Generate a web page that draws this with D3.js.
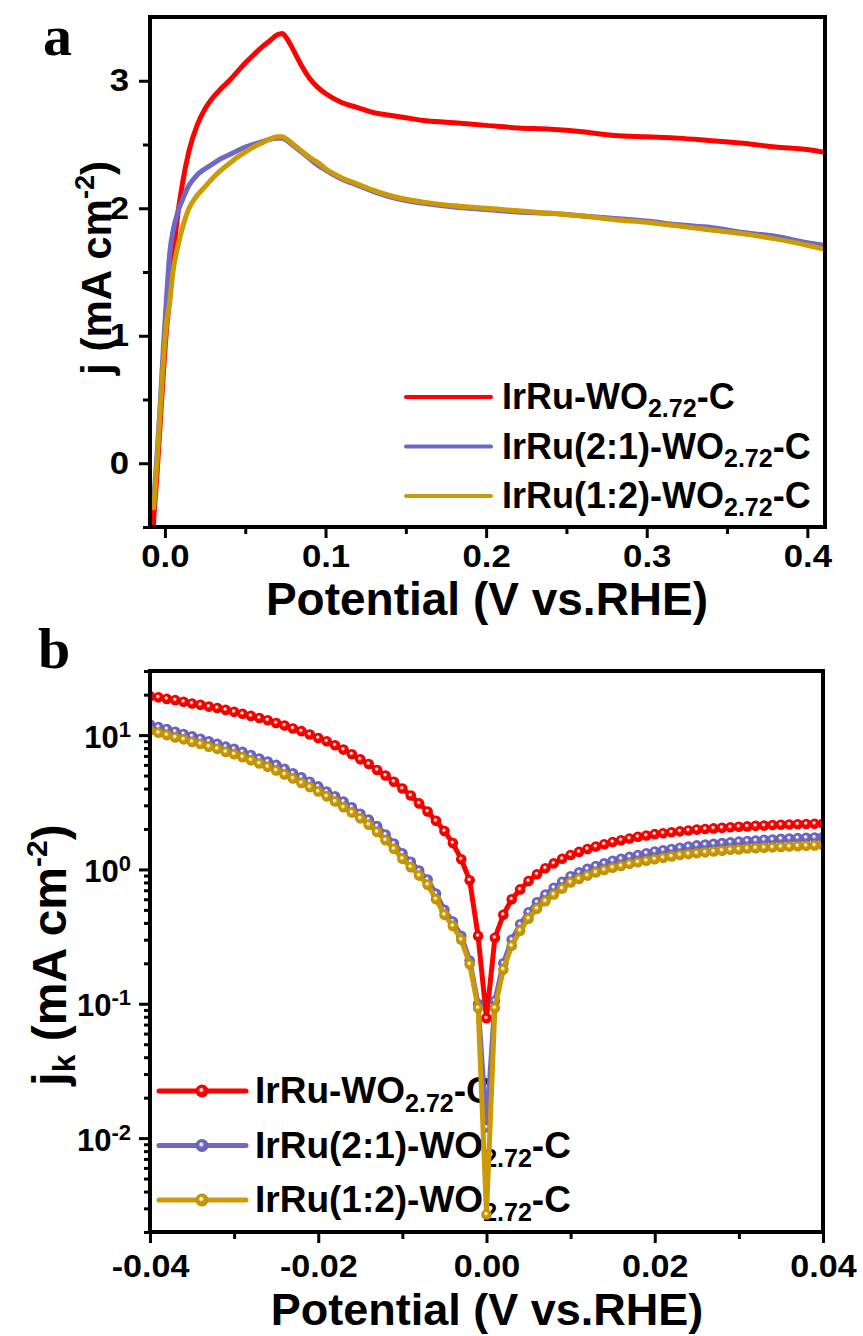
<!DOCTYPE html>
<html><head><meta charset="utf-8">
<script src="https://cdn.jsdelivr.net/npm/d3@7"></script>
<style>
body{margin:0;background:#fff;}
svg{display:block;font-family:"Liberation Sans",Arial,sans-serif;font-weight:bold;}
</style></head><body>
<svg id="c" width="863" height="1336"></svg>
<script>
// ---------- data ----------
const seriesPre = ["IrRu-WO", "IrRu(2:1)-WO", "IrRu(1:2)-WO"];
const seriesSub = "2.72";
const seriesPost = "-C";
const colors = ["#ff0000", "#6e68c6", "#cc9a06"];

// panel a : LSV
const potTop = [-0.009,-0.007,-0.005,-0.003,-0.001,0.001,0.003,0.005,0.008,0.011,0.015,0.02,0.025,0.03,0.035,0.04,0.045,0.05,0.055,0.06,0.065,0.07,0.073,0.076,0.08,0.085,0.09,0.095,0.1,0.11,0.12,0.13,0.14,0.15,0.16,0.18,0.2,0.22,0.24,0.26,0.28,0.3,0.32,0.34,0.36,0.38,0.4,0.41];
const jRed  = [-1.0,-0.45,-0.1,0.3,0.7,1.05,1.3,1.6,1.95,2.2,2.45,2.65,2.78,2.87,2.94,3.0,3.07,3.14,3.2,3.26,3.31,3.36,3.37,3.33,3.24,3.12,3.02,2.95,2.9,2.83,2.79,2.75,2.73,2.71,2.69,2.67,2.65,2.63,2.62,2.6,2.57,2.56,2.55,2.53,2.51,2.48,2.46,2.44];
const jBlue = [null,-0.3,0.05,0.45,0.9,1.3,1.65,1.82,1.97,2.07,2.18,2.26,2.31,2.35,2.39,2.42,2.45,2.48,2.5,2.52,2.54,2.55,2.55,2.53,2.49,2.44,2.39,2.34,2.3,2.23,2.18,2.13,2.09,2.06,2.04,2.01,1.99,1.97,1.96,1.94,1.92,1.9,1.87,1.85,1.81,1.78,1.73,1.71];
const jGold = [null,-0.35,0.0,0.4,0.8,1.1,1.27,1.5,1.7,1.85,2.0,2.1,2.17,2.24,2.3,2.35,2.4,2.44,2.48,2.51,2.54,2.56,2.56,2.54,2.5,2.45,2.4,2.36,2.31,2.24,2.19,2.14,2.1,2.07,2.05,2.02,2.0,1.98,1.96,1.94,1.91,1.89,1.86,1.83,1.8,1.76,1.71,1.68];
const xTicksTop = [0, 0.1, 0.2, 0.3, 0.4];
const xMinorTop = [0.05, 0.15, 0.25, 0.35];
const yTicksTop = [0, 1, 2, 3];
const yMinorTop = [-0.5, 0.5, 1.5, 2.5];

// panel b : kinetic current
const potBot = [-0.040,-0.039,-0.038,-0.037,-0.036,-0.035,-0.034,-0.033,-0.032,-0.031,-0.030,-0.029,-0.028,-0.027,-0.026,-0.025,-0.024,-0.023,-0.022,-0.021,-0.020,-0.019,-0.018,-0.017,-0.016,-0.015,-0.014,-0.013,-0.012,-0.011,-0.010,-0.009,-0.008,-0.007,-0.006,-0.005,-0.004,-0.003,-0.002,-0.001,0.000,0.001,0.002,0.003,0.004,0.005,0.006,0.007,0.008,0.009,0.010,0.011,0.012,0.013,0.014,0.015,0.016,0.017,0.018,0.019,0.020,0.021,0.022,0.023,0.024,0.025,0.026,0.027,0.028,0.029,0.030,0.031,0.032,0.033,0.034,0.035,0.036,0.037,0.038,0.039,0.040];
const jkRed = [19.5,19.1,18.6,18.2,17.7,17.2,16.8,16.3,15.9,15.4,14.9,14.4,13.9,13.4,12.9,12.3,11.8,11.2,10.7,10.1,9.5,9.0,8.4,7.8,7.2,6.6,6.1,5.5,5.0,4.5,4.0,3.55,3.1,2.7,2.3,1.93,1.57,1.19,0.83,0.32,0.078,
  0.31,0.46,0.60,0.71,0.82,0.92,1.02,1.11,1.20,1.28,1.35,1.42,1.48,1.54,1.60,1.65,1.70,1.75,1.79,1.83,1.86,1.89,1.92,1.95,1.98,2.00,2.02,2.04,2.06,2.08,2.09,2.11,2.12,2.14,2.15,2.16,2.17,2.18,2.19,2.20];
const jkBlue = [12.0,11.5,11.1,10.6,10.2,9.8,9.4,9.0,8.6,8.2,7.9,7.5,7.1,6.7,6.35,6.0,5.6,5.2,4.85,4.5,4.15,3.8,3.5,3.2,2.9,2.6,2.35,2.1,1.82,1.56,1.32,1.14,0.98,0.84,0.66,0.5,0.41,0.32,0.21,0.1,0.012,
  0.105,0.2,0.3,0.39,0.48,0.57,0.65,0.73,0.81,0.89,0.95,1.01,1.06,1.11,1.16,1.20,1.24,1.28,1.32,1.36,1.39,1.42,1.45,1.48,1.51,1.53,1.55,1.57,1.59,1.61,1.63,1.64,1.66,1.67,1.69,1.70,1.71,1.72,1.73,1.74];
const jkGold = [10.8,10.4,10.0,9.6,9.3,8.9,8.6,8.2,7.9,7.5,7.2,6.85,6.5,6.15,5.8,5.45,5.1,4.75,4.4,4.1,3.8,3.5,3.2,2.9,2.65,2.4,2.15,1.9,1.65,1.42,1.2,1.04,0.9,0.77,0.6,0.46,0.38,0.30,0.197,0.093,0.0027,
  0.093,0.18,0.27,0.35,0.43,0.51,0.58,0.65,0.72,0.80,0.85,0.90,0.95,0.99,1.03,1.06,1.10,1.13,1.16,1.19,1.22,1.25,1.28,1.30,1.32,1.34,1.36,1.38,1.40,1.41,1.43,1.44,1.45,1.46,1.47,1.48,1.49,1.50,1.51,1.52];
const xTicksBot = [-0.04, -0.02, 0, 0.02, 0.04];
const xMinorBot = [-0.03, -0.01, 0.01, 0.03];
const yTicksBot = [0.01, 0.1, 1, 10];

// ---------- drawing ----------
const svg = d3.select("#c");
const defs = svg.append("defs");
const tickFont = 31;

function styleAxis(g, width, minor) {
  g.select(".domain").remove();
  g.selectAll(".tick line").attr("stroke", "#000").attr("stroke-width", width);
  if (minor) { g.selectAll(".tick text").remove(); return; }
  g.selectAll(".tick text").attr("fill", "#000").attr("font-size", tickFont)
    .attr("font-weight", "bold").attr("font-family", '"Liberation Sans", Arial, sans-serif');
}
function widen(g, f) {
  g.selectAll(".tick text").each(function() {
    const w = this.getComputedTextLength();
    d3.select(this).attr("textLength", w * f).attr("lengthAdjust", "spacingAndGlyphs");
  });
}

// ======= Panel a =======
const xA = d3.scaleLinear().domain([-0.0093, 0.411]).range([150, 825]);
const yA = d3.scaleLinear().domain([-0.5, 3.5]).range([527, 17]);

defs.append("clipPath").attr("id", "clipA").append("rect")
  .attr("x", 150).attr("y", 17).attr("width", 675).attr("height", 510);

const legA = svg.append("g");
seriesPre.forEach((p, i) => {
  const y = 397 + i * 49.5;
  legA.append("line").attr("x1", 406).attr("x2", 491).attr("y1", y).attr("y2", y)
    .attr("stroke", colors[i]).attr("stroke-width", 4).attr("stroke-linecap", "round");
  const t = legA.append("text").attr("x", 502).attr("y", y + 12).attr("font-size", 36);
  t.append("tspan").text(p);
  t.append("tspan").attr("font-size", 25).attr("dy", 8).text(seriesSub);
  t.append("tspan").attr("font-size", 36).attr("dy", -8).text(seriesPost);
});

const lineA = d3.line().defined(d => d[1] !== null)
  .x(d => xA(d[0])).y(d => yA(d[1])).curve(d3.curveMonotoneX);
const dataA = [jRed, jBlue, jGold];
const plotA = svg.append("g").attr("clip-path", "url(#clipA)");
dataA.forEach((arr, i) => {
  plotA.append("path").datum(potTop.map((p, k) => [p, arr[k]]))
    .attr("d", lineA).attr("fill", "none").attr("stroke", colors[i])
    .attr("stroke-width", 5).attr("stroke-linecap", "round").attr("stroke-linejoin", "round");
});

const gxA = svg.append("g").attr("transform", "translate(0,527)")
  .call(d3.axisBottom(xA).tickValues(xTicksTop).tickFormat(d => d.toFixed(1)).tickSize(11).tickPadding(7).tickSizeOuter(0));
styleAxis(gxA, 3); widen(gxA, 1.12);
const gxAm = svg.append("g").attr("transform", "translate(0,527)")
  .call(d3.axisBottom(xA).tickValues(xMinorTop).tickSize(7).tickSizeOuter(0));
styleAxis(gxAm, 3, true);
const gyA = svg.append("g").attr("transform", "translate(150,0)")
  .call(d3.axisLeft(yA).tickValues(yTicksTop).tickFormat(d => String(d)).tickSize(11).tickPadding(10).tickSizeOuter(0));
styleAxis(gyA, 3); widen(gyA, 1.12);
const gyAm = svg.append("g").attr("transform", "translate(150,0)")
  .call(d3.axisLeft(yA).tickValues(yMinorTop).tickSize(7).tickSizeOuter(0));
styleAxis(gyAm, 3, true);

svg.append("rect").attr("x", 150).attr("y", 17).attr("width", 675).attr("height", 510)
  .attr("fill", "none").attr("stroke", "#000").attr("stroke-width", 4);

svg.append("text").attr("x", 487).attr("y", 615).attr("text-anchor", "middle")
  .attr("font-size", 46).text("Potential (V vs.RHE)");
const ytA = svg.append("text").attr("transform", "translate(111,268) rotate(-90)")
  .attr("text-anchor", "middle").attr("font-size", 42);
ytA.append("tspan").text("j (mA cm");
ytA.append("tspan").attr("font-size", 27).attr("dy", -17).text("-2");
ytA.append("tspan").attr("dy", 17).text(")");

svg.append("text").attr("x", 43).attr("y", 55).attr("font-size", 58)
  .attr("font-family", '"Liberation Serif", "Times New Roman", serif').attr("font-weight", "bold").text("a");

// ======= Panel b =======
const xB = d3.scaleLinear().domain([-0.04, 0.04]).range([150, 823]);
const yB = d3.scaleLog().domain([0.002, 30]).range([1232, 671]);

defs.append("clipPath").attr("id", "clipB").append("rect")
  .attr("x", 150).attr("y", 671).attr("width", 673).attr("height", 561);

colors.forEach((c, i) => {
  const g = defs.append("radialGradient").attr("id", "ball" + i)
    .attr("cx", "50%").attr("cy", "50%").attr("r", "50%").attr("fx", "42%").attr("fy", "38%");
  g.append("stop").attr("offset", "0%").attr("stop-color", "#ffffff");
  g.append("stop").attr("offset", "14%").attr("stop-color", "#ffffff");
  g.append("stop").attr("offset", "42%").attr("stop-color", c);
  g.append("stop").attr("offset", "100%").attr("stop-color", d3.color(c).darker(0.25));
});

const legB = svg.append("g");
seriesPre.forEach((p, i) => {
  const y = 1091 + i * 54.5;
  legB.append("line").attr("x1", 159).attr("x2", 246).attr("y1", y).attr("y2", y)
    .attr("stroke", colors[i]).attr("stroke-width", 5).attr("stroke-linecap", "round");
  legB.append("circle").attr("cx", 202).attr("cy", y).attr("r", 6.5).attr("fill", `url(#ball${i})`);
  const t = legB.append("text").attr("x", 255).attr("y", y + 12).attr("font-size", 37);
  t.append("tspan").text(p);
  t.append("tspan").attr("font-size", 25).attr("dy", 9).text(seriesSub);
  t.append("tspan").attr("font-size", 37).attr("dy", -9).text(seriesPost);
});

const lineB = d3.line().x(d => xB(d[0])).y(d => yB(d[1]));
const dataB = [jkRed, jkBlue, jkGold];
const plotB = svg.append("g").attr("clip-path", "url(#clipB)");
dataB.forEach((arr, i) => {
  const pts = potBot.map((p, k) => [p, arr[k]]);
  const g = plotB.append("g");
  g.append("path").datum(pts).attr("d", lineB).attr("fill", "none")
    .attr("stroke", colors[i]).attr("stroke-width", 5).attr("stroke-linejoin", "round");
  g.selectAll("circle").data(pts).join("circle")
    .attr("cx", d => xB(d[0])).attr("cy", d => yB(d[1])).attr("r", 5.3)
    .attr("fill", `url(#ball${i})`);
});

const gxB = svg.append("g").attr("transform", "translate(0,1232)")
  .call(d3.axisBottom(xB).tickValues(xTicksBot).tickFormat(d => d.toFixed(2)).tickSize(11).tickPadding(12).tickSizeOuter(0));
styleAxis(gxB, 3); widen(gxB, 1.1);
const gxBm = svg.append("g").attr("transform", "translate(0,1232)")
  .call(d3.axisBottom(xB).tickValues(xMinorBot).tickSize(7).tickSizeOuter(0));
styleAxis(gxBm, 3, true);

const yMinorBot = [];
[0.001, 0.01, 0.1, 1, 10].forEach(dec => { for (let m = 2; m <= 9; m++) { const v = dec * m; if (v >= 0.002 && v <= 30) yMinorBot.push(v); } });
const gyB = svg.append("g").attr("transform", "translate(150,0)")
  .call(d3.axisLeft(yB).tickValues(yTicksBot).tickFormat(d => "").tickSize(11).tickPadding(8).tickSizeOuter(0));
styleAxis(gyB, 3);
gyB.selectAll(".tick text").each(function(d) {
  const t = d3.select(this).attr("dy", null).attr("y", 12);
  t.append("tspan").text("10");
  t.append("tspan").attr("font-size", 22).attr("dy", -11).text(String(Math.round(Math.log10(d))));
});
const gyBm = svg.append("g").attr("transform", "translate(150,0)")
  .call(d3.axisLeft(yB).tickValues(yMinorBot).tickSize(6).tickSizeOuter(0));
styleAxis(gyBm, 3, true);

svg.append("rect").attr("x", 150).attr("y", 671).attr("width", 673).attr("height", 561)
  .attr("fill", "none").attr("stroke", "#000").attr("stroke-width", 4);

svg.append("text").attr("x", 487).attr("y", 1325).attr("text-anchor", "middle")
  .attr("font-size", 45).text("Potential (V vs.RHE)");
const ytB = svg.append("text").attr("transform", "translate(66,955) rotate(-90)")
  .attr("text-anchor", "middle").attr("font-size", 48);
ytB.append("tspan").text("j");
ytB.append("tspan").attr("font-size", 32).attr("dy", 9).text("k");
ytB.append("tspan").attr("dy", -9).text(" (mA cm");
ytB.append("tspan").attr("font-size", 30).attr("dy", -19).text("-2");
ytB.append("tspan").attr("dy", 19).text(")");

svg.append("text").attr("x", 38).attr("y", 668).attr("font-size", 58)
  .attr("font-family", '"Liberation Serif", "Times New Roman", serif').attr("font-weight", "bold").text("b");
</script>
</body></html>
